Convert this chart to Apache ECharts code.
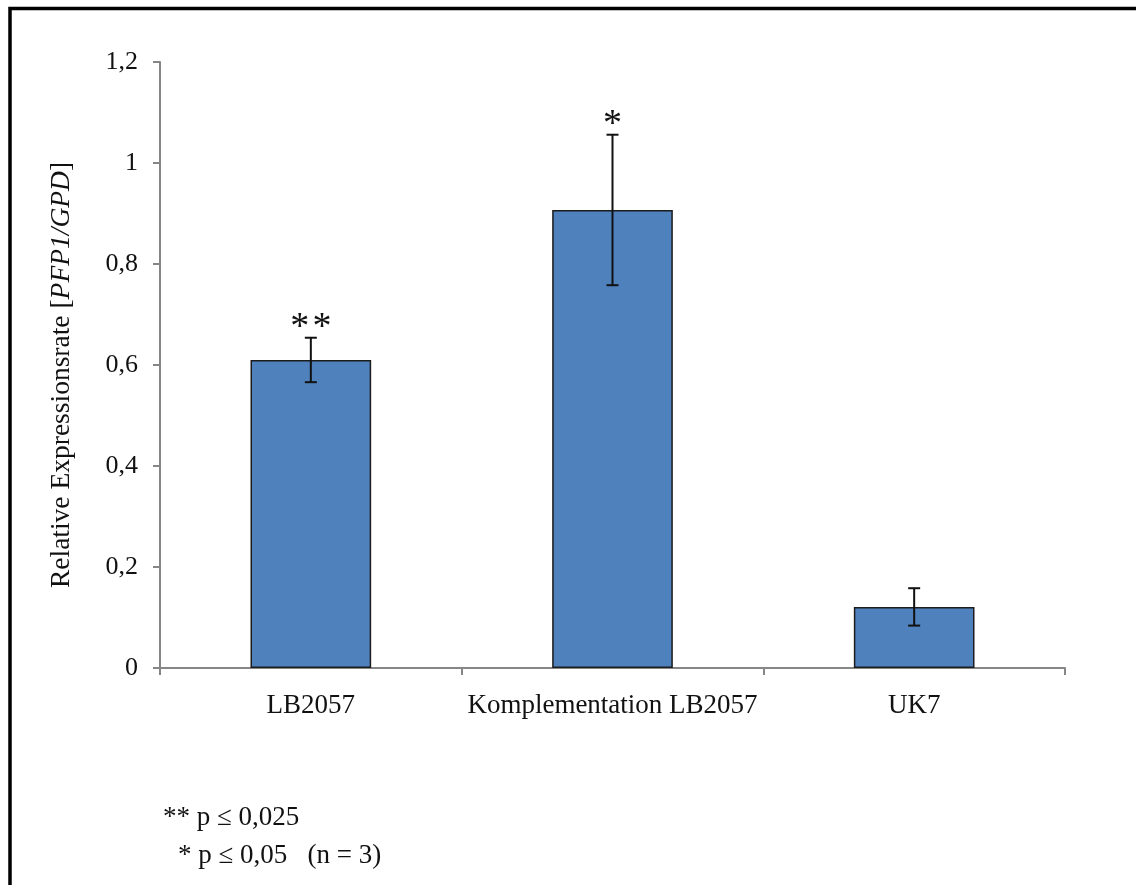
<!DOCTYPE html>
<html>
<head>
<meta charset="utf-8">
<script src="https://cdn.jsdelivr.net/npm/echarts@6/dist/echarts.min.js"></script>
<style>
html,body{margin:0;padding:0;background:#fff;}
#chart{width:1136px;height:885px;}
</style>
</head>
<body>
<div id="chart"></div>
<script>
// ---- data ----
var categories = ['LB2057', 'Komplementation LB2057', 'UK7'];
var values = [0.610, 0.907, 0.121];
var errors = [0.044, 0.149, 0.037];
var significance = ['*\u200A*', '*', ''];
var yTickLabels = ['0', '0,2', '0,4', '0,6', '0,8', '1', '1,2'];
var footnotes = ['** p \u2264 0,025', '* p \u2264 0,05   (n = 3)'];

var FONT = "'Liberation Serif', 'Times New Roman', serif";
var chart = echarts.init(document.getElementById('chart'));

var errData = values.map(function (v, i) { return [i, v - errors[i], v + errors[i]]; });

chart.setOption({
  animation: false,
  backgroundColor: '#fff',
  grid: { left: 160, right: 71, top: 62, bottom: 217, containLabel: false },
  xAxis: {
    type: 'category',
    data: categories,
    axisLine: { lineStyle: { color: '#868686', width: 2 } },
    axisTick: { show: true, length: 7, lineStyle: { color: '#868686', width: 2 } },
    axisLabel: { color: '#111', fontFamily: FONT, fontSize: 27, margin: 24, interval: 0, hideOverlap: false },
    splitLine: { show: false }
  },
  yAxis: {
    type: 'value',
    min: 0, max: 1.2, interval: 0.2,
    axisLine: { show: true, lineStyle: { color: '#868686', width: 2 } },
    axisTick: { show: true, length: 7, lineStyle: { color: '#868686', width: 2 } },
    axisLabel: {
      color: '#111', fontFamily: FONT, fontSize: 26, margin: 22,
      formatter: function (v) { return yTickLabels[Math.round(v / 0.2)]; }
    },
    splitLine: { show: false },
    name: '{a|Relative Expressionsrate [}{b|PFP1/GPD}{a|]}{c| }',
    nameLocation: 'middle',
    nameGap: 84,
    nameRotate: 90,
    nameTextStyle: {
      rich: {
        a: { fontFamily: FONT, fontSize: 27.5, color: '#111' },
        b: { fontFamily: FONT, fontSize: 27.5, color: '#111', fontStyle: 'italic' },
        c: { fontFamily: FONT, fontSize: 27.5, width: 20 }
      }
    }
  },
  series: [
    {
      type: 'bar',
      data: values,
      barWidth: '40%',
      itemStyle: { color: '#4F81BD', borderColor: '#1c1c1c', borderWidth: 1.5 }
    },
    {
      type: 'custom',
      data: errData,
      z: 10,
      renderItem: function (params, api) {
        var x = api.value(0);
        var lo = api.coord([x, api.value(1)]);
        var hi = api.coord([x, api.value(2)]);
        var hw = 6;
        var st = { stroke: '#111', lineWidth: 2 };
        var children = [
          { type: 'line', shape: { x1: hi[0], y1: hi[1], x2: lo[0], y2: lo[1] }, style: st },
          { type: 'line', shape: { x1: hi[0] - hw, y1: hi[1], x2: hi[0] + hw, y2: hi[1] }, style: st },
          { type: 'line', shape: { x1: lo[0] - hw, y1: lo[1], x2: lo[0] + hw, y2: lo[1] }, style: st }
        ];
        var sig = significance[params.dataIndex];
        if (sig) {
          children.push({
            type: 'text',
            style: {
              text: sig, x: hi[0], y: hi[1] + 9,
              align: 'center', verticalAlign: 'bottom',
              font: '38px ' + FONT, fill: '#111'
            }
          });
        }
        return { type: 'group', children: children };
      }
    }
  ],
  graphic: [
    {
      type: 'polyline',
      shape: { points: [[10, 885], [10, 8.5], [1136, 8.5]] },
      style: { stroke: '#000', lineWidth: 3.5, fill: null }
    },
    {
      type: 'text', left: 163, top: 804,
      style: { text: footnotes[0], font: '27px ' + FONT, fill: '#111' }
    },
    {
      type: 'text', left: 178, top: 842,
      style: { text: footnotes[1], font: '27px ' + FONT, fill: '#111' }
    }
  ]
});
</script>
</body>
</html>
